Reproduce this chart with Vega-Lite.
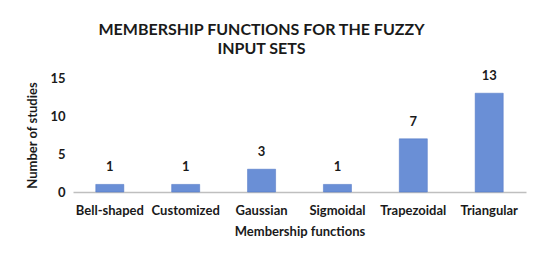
{
  "$schema": "https://vega.github.io/schema/vega-lite/v6.json",
  "width": 453,
  "height": 114,
  "autosize": {"type": "none"},
  "padding": {"left": 73, "top": 78, "right": 24, "bottom": 73},
  "background": "white",
  "title": {
    "text": ["MEMBERSHIP FUNCTIONS FOR THE FUZZY", "INPUT SETS"],
    "font": "Lato",
    "fontSize": 16,
    "fontWeight": "bold",
    "color": "#1a1a1a",
    "anchor": "middle",
    "dx": -38,
    "offset": 13,
    "lineHeight": 19
  },
  "data": {
    "values": [
      {"func": "Bell-shaped", "n": 1},
      {"func": "Customized", "n": 1},
      {"func": "Gaussian", "n": 3},
      {"func": "Sigmoidal", "n": 1},
      {"func": "Trapezoidal", "n": 7},
      {"func": "Triangular", "n": 13}
    ]
  },
  "encoding": {
    "x": {
      "field": "func",
      "type": "nominal",
      "sort": null,
      "scale": {"paddingInner": 0.63, "paddingOuter": 0.3},
      "axis": {
        "title": "Membership functions",
        "labelAngle": 0,
        "ticks": false,
        "domainColor": "#bfbfbf",
        "domainWidth": 1.5,
        "labelFont": "Lato",
        "labelFontSize": 13,
        "labelFontWeight": "bold",
        "labelColor": "#1a1a1a",
        "labelPadding": 12,
        "titleFont": "Lato",
        "titleFontSize": 13,
        "titleFontWeight": "bold",
        "titleColor": "#1a1a1a",
        "titlePadding": 8
      }
    },
    "y": {
      "field": "n",
      "type": "quantitative",
      "scale": {"domain": [0, 15]},
      "axis": {
        "title": "Number of studies",
        "values": [0, 5, 10, 15],
        "grid": false,
        "domain": false,
        "ticks": false,
        "labelFont": "Lato",
        "labelFontSize": 13,
        "labelFontWeight": "bold",
        "labelColor": "#1a1a1a",
        "labelPadding": 8,
        "titleFont": "Lato",
        "titleFontSize": 13,
        "titleFontWeight": "bold",
        "titleColor": "#1a1a1a",
        "titlePadding": 10
      }
    }
  },
  "layer": [
    {"mark": {"type": "bar", "color": "#6a8fd6", "stroke": "#4f74c4", "strokeWidth": 0.5}},
    {
      "mark": {"type": "text", "dy": -10, "baseline": "bottom", "font": "Lato", "fontSize": 13, "fontWeight": "bold", "color": "#1a1a1a"},
      "encoding": {"text": {"field": "n", "type": "quantitative"}}
    }
  ],
  "config": {"view": {"stroke": null}}
}
